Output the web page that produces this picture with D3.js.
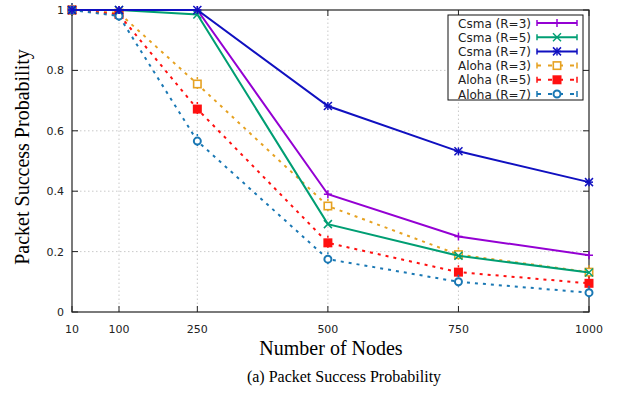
<!DOCTYPE html>
<html>
<head>
<meta charset="utf-8">
<script src="https://cdn.jsdelivr.net/npm/d3@7"></script>
<style>
  body { margin: 0; background: #fff; }
  svg { display: block; }
</style>
</head>
<body>
<svg id="chart" width="623" height="395"></svg>
<script>
const nodes = [10, 100, 250, 500, 750, 1000];
const yTicks = [0, 0.2, 0.4, 0.6, 0.8, 1];

const csma3 = [1, 1, 1, 0.39, 0.25, 0.188];
const csma5 = [1, 1, 0.985, 0.291, 0.186, 0.131];
const csma7 = [1, 1, 1, 0.682, 0.532, 0.43];
const aloha3 = [1, 0.99, 0.755, 0.351, 0.19, 0.132];
const aloha5 = [1, 0.985, 0.672, 0.229, 0.132, 0.095];
const aloha7 = [1, 0.98, 0.566, 0.175, 0.1, 0.064];

const series = [
  { name: 'Csma (R=3)', values: csma3, color: '#9400d3', dash: null, marker: 'plus' },
  { name: 'Csma (R=5)', values: csma5, color: '#009e73', dash: null, marker: 'cross' },
  { name: 'Csma (R=7)', values: csma7, color: '#1010c0', dash: null, marker: 'star' },
  { name: 'Aloha (R=3)', values: aloha3, color: '#e6a222', dash: '3,5', marker: 'square' },
  { name: 'Aloha (R=5)', values: aloha5, color: '#ff1010', dash: '3,5', marker: 'fsquare' },
  { name: 'Aloha (R=7)', values: aloha7, color: '#1a78b4', dash: '3,5', marker: 'circle' }
];

const margin = { left: 72, right: 34, top: 10, bottom: 83 };
const width = 623, height = 395;
const svg = d3.select('#chart');

const x = d3.scaleLinear().domain([10, 1000]).range([margin.left, width - margin.right]);
const y = d3.scaleLinear().domain([0, 1]).range([height - margin.bottom, margin.top]);

// grid
const grid = svg.append('g');
grid.selectAll('line.gy').data(yTicks.slice(1, -1)).enter().append('line')
  .attr('x1', x(10)).attr('x2', x(1000))
  .attr('y1', d => y(d)).attr('y2', d => y(d))
  .attr('stroke', '#bbb').attr('stroke-width', 0.8).attr('stroke-dasharray', '1.5,2.5');
grid.selectAll('line.gx').data(nodes.slice(1, -1)).enter().append('line')
  .attr('x1', d => x(d)).attr('x2', d => x(d))
  .attr('y1', y(0)).attr('y2', y(1))
  .attr('stroke', '#bbb').attr('stroke-width', 0.8).attr('stroke-dasharray', '1.5,2.5');

// frame
svg.append('rect')
  .attr('x', x(10)).attr('y', y(1))
  .attr('width', x(1000) - x(10)).attr('height', y(0) - y(1))
  .attr('fill', 'none').attr('stroke', '#222').attr('stroke-width', 1.2);

// ticks (inward, mirrored)
const tickLen = 6;
yTicks.forEach(t => {
  svg.append('line').attr('x1', x(10)).attr('x2', x(10) + tickLen)
    .attr('y1', y(t)).attr('y2', y(t)).attr('stroke', '#222');
  svg.append('line').attr('x1', x(1000)).attr('x2', x(1000) - tickLen)
    .attr('y1', y(t)).attr('y2', y(t)).attr('stroke', '#222');
});
nodes.forEach(n => {
  svg.append('line').attr('x1', x(n)).attr('x2', x(n))
    .attr('y1', y(0)).attr('y2', y(0) - tickLen).attr('stroke', '#222');
  svg.append('line').attr('x1', x(n)).attr('x2', x(n))
    .attr('y1', y(1)).attr('y2', y(1) + tickLen).attr('stroke', '#222');
});

// tick labels
svg.append('g').selectAll('text').data(yTicks).enter().append('text')
  .attr('x', x(10) - 8).attr('y', d => y(d) + 4)
  .attr('text-anchor', 'end')
  .attr('font-family', 'DejaVu Sans, sans-serif').attr('font-size', 11)
  .attr('fill', '#222')
  .text(d => d3.format('~g')(d));
svg.append('g').selectAll('text').data(nodes).enter().append('text')
  .attr('x', d => x(d)).attr('y', y(0) + 21)
  .attr('text-anchor', 'middle')
  .attr('font-family', 'DejaVu Sans, sans-serif').attr('font-size', 11)
  .attr('fill', '#222')
  .text(d => d);

// axis titles
svg.append('text')
  .attr('transform', 'translate(29,157) rotate(-90)')
  .attr('text-anchor', 'middle')
  .attr('font-family', 'Liberation Serif, serif').attr('font-size', 20)
  .text('Packet Success Probability');
svg.append('text')
  .attr('x', 331).attr('y', 355)
  .attr('text-anchor', 'middle')
  .attr('font-family', 'Liberation Serif, serif').attr('font-size', 20)
  .text('Number of Nodes');
svg.append('text')
  .attr('x', 344).attr('y', 382)
  .attr('text-anchor', 'middle')
  .attr('font-family', 'Liberation Serif, serif').attr('font-size', 16)
  .text('(a) Packet Success Probability');

function drawMarker(g, kind, cx, cy, color) {
  const s = 4;
  if (kind === 'plus' || kind === 'star') {
    g.append('line').attr('x1', cx - s).attr('x2', cx + s).attr('y1', cy).attr('y2', cy)
      .attr('stroke', color).attr('stroke-width', 1.5);
    g.append('line').attr('x1', cx).attr('x2', cx).attr('y1', cy - s).attr('y2', cy + s)
      .attr('stroke', color).attr('stroke-width', 1.5);
  }
  if (kind === 'cross' || kind === 'star') {
    g.append('line').attr('x1', cx - s).attr('x2', cx + s).attr('y1', cy - s).attr('y2', cy + s)
      .attr('stroke', color).attr('stroke-width', 1.5);
    g.append('line').attr('x1', cx - s).attr('x2', cx + s).attr('y1', cy + s).attr('y2', cy - s)
      .attr('stroke', color).attr('stroke-width', 1.5);
  }
  if (kind === 'square' || kind === 'fsquare') {
    g.append('rect').attr('x', cx - 3.7).attr('y', cy - 3.7).attr('width', 7.4).attr('height', 7.4)
      .attr('fill', kind === 'fsquare' ? color : '#fff')
      .attr('stroke', color).attr('stroke-width', 1.6);
  }
  if (kind === 'circle') {
    g.append('circle').attr('cx', cx).attr('cy', cy).attr('r', 3.5)
      .attr('fill', '#fff').attr('stroke', color).attr('stroke-width', 2);
  }
}

const line = d3.line().x((d, i) => x(nodes[i])).y(d => y(d));

// draw aloha first then csma on top
const order = [3, 4, 5, 0, 1, 2];
order.forEach(k => {
  const s = series[k];
  const g = svg.append('g');
  g.append('path').attr('d', line(s.values))
    .attr('fill', 'none').attr('stroke', s.color).attr('stroke-width', 2)
    .attr('stroke-dasharray', s.dash);
  s.values.forEach((v, i) => {
    // small error bar
    if (s.dash) {
      g.append('line').attr('x1', x(nodes[i])).attr('x2', x(nodes[i]))
        .attr('y1', y(v) - 7).attr('y2', y(v) + 7)
        .attr('stroke', s.color).attr('stroke-width', 1.5).attr('stroke-dasharray', '2,3');
    }
    drawMarker(g, s.marker, x(nodes[i]), y(v), s.color);
  });
});

// legend
const lg = svg.append('g');
lg.append('rect').attr('x', 448).attr('y', 15).attr('width', 135).attr('height', 85)
  .attr('fill', '#fff').attr('stroke', '#111').attr('stroke-width', 1);
series.forEach((s, i) => {
  const ly = 23 + i * 14.2;
  lg.append('text').attr('x', 531).attr('y', ly + 4.5)
    .attr('text-anchor', 'end')
    .attr('font-family', 'DejaVu Sans, sans-serif').attr('font-size', 12)
    .attr('fill', '#222').text(s.name);
  lg.append('line').attr('x1', 537).attr('x2', 577).attr('y1', ly).attr('y2', ly)
    .attr('stroke', s.color).attr('stroke-width', 2).attr('stroke-dasharray', s.dash ? '4,7' : null);
  [537, 577].forEach(ex => {
    lg.append('line').attr('x1', ex).attr('x2', ex).attr('y1', ly - 3).attr('y2', ly + 3)
      .attr('stroke', s.color).attr('stroke-width', 1.5);
  });
  drawMarker(lg, s.marker, 557, ly, s.color);
});
</script>
</body>
</html>
